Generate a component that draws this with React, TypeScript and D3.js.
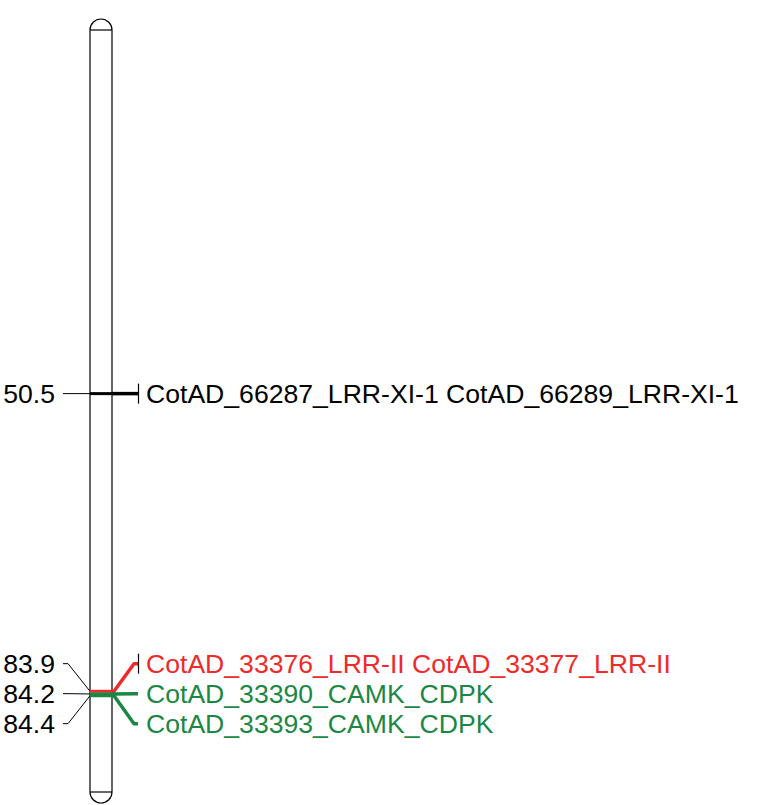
import React from "react";
import * as d3 from "d3";

// chromosome extent (cM)
const chromRange = [9.7, 95.2];
// marker positions (cM)
const positions = [50.5, 83.9, 84.2, 84.4];
// loci at each position
const loci: string[][] = [
  ["CotAD_66287_LRR-XI-1", "CotAD_66289_LRR-XI-1"],
  ["CotAD_33376_LRR-II", "CotAD_33377_LRR-II"],
  ["CotAD_33390_CAMK_CDPK"],
  ["CotAD_33393_CAMK_CDPK"],
];
const groups = ["other", "LRR", "CAMK", "CAMK"];
const colorOf: Record<string, string> = { other: "#000000", LRR: "#ee2a2a", CAMK: "#1b8744" };

const W = 771, H = 805;
const chromX0 = 90, chromX1 = 112;
const FONT = "'Liberation Sans', Arial, sans-serif";
const FS = 26.6;
const SPACING = 30;

function spread(ys: number[], gap: number): number[] {
  // cluster-based spreading preserving order
  let clusters = ys.map((y, i) => ({ idx: [i], center: y }));
  let changed = true;
  while (changed) {
    changed = false;
    const out: typeof clusters = [];
    for (const c of clusters) {
      const prev = out[out.length - 1];
      if (prev) {
        const prevEnd = prev.center + ((prev.idx.length - 1) * gap) / 2;
        const curStart = c.center - ((c.idx.length - 1) * gap) / 2;
        if (curStart - prevEnd < gap) {
          const idx = prev.idx.concat(c.idx);
          const center = d3.mean(idx, (k) => ys[k]) as number;
          out[out.length - 1] = { idx, center };
          changed = true;
          continue;
        }
      }
      out.push(c);
    }
    clusters = out;
  }
  const res = new Array(ys.length);
  for (const c of clusters) {
    const n = c.idx.length;
    c.idx.forEach((k, j) => (res[k] = c.center + (j - (n - 1) / 2) * gap));
  }
  return res;
}

export default function App() {
  const y = d3.scaleLinear().domain(chromRange).range([30, 792]);
  const my = positions.map((p) => y(p));
  const ly = spread(my, SPACING);
  const r = (chromX1 - chromX0) / 2;
  const cx = (chromX0 + chromX1) / 2;
  const top = y(chromRange[0]);
  const bot = y(chromRange[1]);

  return (
    <svg width={W} height={H} style={{ position: "absolute", left: 0, top: 0, background: "#fff" }}>
      <rect x={0} y={0} width={W} height={H} fill="#fff" />
      {/* chromosome body */}
      <path
        d={`M${chromX0},${top} A${r},${r} 0 0 1 ${chromX1},${top} L${chromX1},${bot} A${r},${r} 0 0 1 ${chromX0},${bot} Z`}
        fill="#fff"
        stroke="#000"
        strokeWidth={1.2}
      />
      <line x1={chromX0} x2={chromX1} y1={top} y2={top} stroke="#000" strokeWidth={1.2} />
      <line x1={chromX0} x2={chromX1} y1={bot} y2={bot} stroke="#000" strokeWidth={1.2} />

      {/* left: position labels */}
      {positions.map((p, i) => (
        <g key={"l" + i}>
          <polyline
            points={`63,${ly[i]} 68,${ly[i]} ${chromX0},${my[i]}`}
            fill="none"
            stroke="#000"
            strokeWidth={1}
          />
          <text
            x={55}
            y={ly[i]}
            dy="0.36em"
            textAnchor="end"
            fontFamily={FONT}
            fontSize={FS}
            fill="#000"
          >
            {d3.format(".1f")(p)}
          </text>
        </g>
      ))}

      {/* marker bars and right labels (draw LRR after CAMK so ordering looks right) */}
      {positions.map((p, i) => {
        const c = colorOf[groups[i]];
        return (
          <g key={"m" + i}>
            <line x1={chromX0} x2={chromX1} y1={my[i]} y2={my[i]} stroke={c} strokeWidth={3} />
            <polyline
              points={`${chromX1},${my[i]} 114,${my[i]} 134,${ly[i]} 138,${ly[i]}`}
              fill="none"
              stroke={c}
              strokeWidth={3.5}
              strokeLinejoin="round"
            />
            {loci[i].length > 1 && (
              <line x1={138.5} x2={138.5} y1={ly[i] - 10} y2={ly[i] + 10} stroke="#000" strokeWidth={1.2} />
            )}
            <text
              x={146}
              y={ly[i]}
              dy="0.36em"
              fontFamily={FONT}
              fontSize={FS}
              fill={c}
            >
              {loci[i].join(" ")}
            </text>
          </g>
        );
      })}
    </svg>
  );
}
